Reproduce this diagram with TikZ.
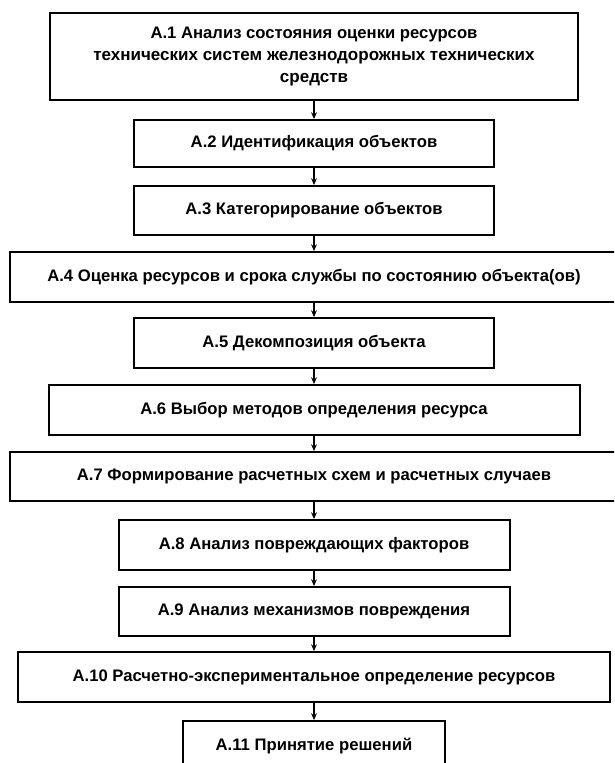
\documentclass[tikz,border=0pt]{standalone}
\usepackage{fontspec}
\setmainfont{Liberation Sans}
\usepackage{tikz}
\usetikzlibrary{arrows.meta}

\begin{document}
\begin{tikzpicture}[x=0.6pt, y=-0.6pt,
  blok/.style={draw, line width=1.2pt, inner sep=0pt, minimum height=30pt, align=center, font=\fontsize{10}{12}\selectfont\bfseries},
  strelka/.style={line width=0.9pt, -{Stealth[length=4pt, width=3.5pt]}}]

 \path[use as bounding box, clip] (0,0) rectangle (614,763);

 %%%  nodes

 % analysis steps
 \node [blok, minimum width=316.8pt, minimum height=52.2pt] (a1) at (314,56.5)
   {А.1 Анализ состояния оценки ресурсов\\[1pt]
    {\fontsize{10.2}{13}\selectfont технических систем железнодорожных технических}\\[1pt]
    {\fontsize{10.2}{13}\selectfont средств}};
 \node [blok, minimum width=216pt, minimum height=28.2pt] (a2) at (314,143.5) {А.2 Идентификация объектов};
 \node [blok, minimum width=216pt, minimum height=29.4pt] (a3) at (314,210.5) {А.3 Категорирование объектов};
 \node [blok, minimum width=364.8pt] (a4) at (314,277) {А.4 Оценка ресурсов и срока службы по состоянию объекта(ов)};
 \node [blok, minimum width=216pt] (a5) at (314,343) {А.5 Декомпозиция объекта};
 \node [blok, minimum width=318.6pt] (a6) at (314,410) {А.6 Выбор методов определения ресурса};
 \node [blok, minimum width=364.8pt, minimum height=29.4pt] (a7) at (314,476.5) {А.7 Формирование расчетных схем и расчетных случаев};
 \node [blok, minimum width=234.6pt] (a8) at (314,545) {А.8 Анализ повреждающих факторов};
 \node [blok, minimum width=234.6pt, minimum height=29.4pt] (a9) at (314,611.5) {А.9 Анализ механизмов повреждения};
 \node [blok, minimum width=355.2pt] (a10) at (314,677) {А.10 Расчетно-экспериментальное определение ресурсов};
 \node [blok, minimum width=157.2pt] (a11) at (314,746) {А.11 Принятие решений};

 % links
 \draw [strelka] (a1) to (a2);
 \draw [strelka] (a2) to (a3);
 \draw [strelka] (a3) to (a4);
 \draw [strelka] (a4) to (a5);
 \draw [strelka] (a5) to (a6);
 \draw [strelka] (a6) to (a7);
 \draw [strelka] (a7) to (a8);
 \draw [strelka] (a8) to (a9);
 \draw [strelka] (a9) to (a10);
 \draw [strelka] (a10) to (a11);

\end{tikzpicture}
\end{document}
